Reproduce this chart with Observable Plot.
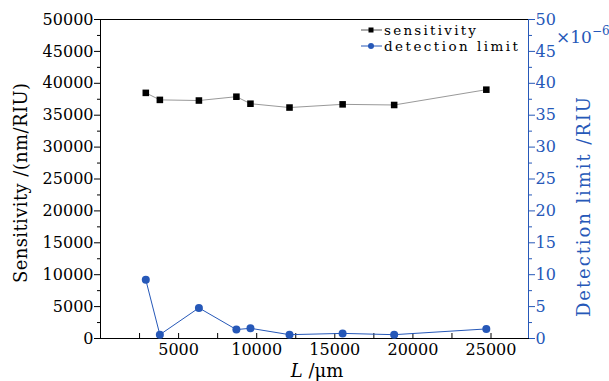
<!DOCTYPE html>
<html>
<head>
<meta charset="utf-8">
<script src="https://cdn.jsdelivr.net/npm/d3@7"></script>
<script src="https://cdn.jsdelivr.net/npm/@observablehq/plot@0.6"></script>
<style>
  body { margin: 0; background: #fff; }
  #wrap { position: relative; width: 609px; height: 381px; font-family: "DejaVu Serif", serif; }
  #wrap svg.ov { position: absolute; left: 0; top: 0; pointer-events: none; }
</style>
</head>
<body>
<div id="wrap"></div>
<script>
const lengths = [2900, 3800, 6300, 8700, 9600, 12100, 15500, 18800, 24700];
const sensitivity = [38500, 37400, 37300, 37900, 36800, 36200, 36700, 36600, 39000];
const detectionLimit = [9.2, 0.6, 4.8, 1.4, 1.6, 0.6, 0.8, 0.6, 1.5]; // ×10^-6 RIU
const xTicks = [5000, 10000, 15000, 20000, 25000];
const yTicks = d3.range(0, 50001, 5000);
const rightTicks = d3.range(0, 51, 5);

const BLUE = "#2658b8";
const xMax = 27400;
const scaleFactor = 1000; // right axis 0–50 mapped to left 0–50000

const sens = lengths.map((L, i) => ({L, v: sensitivity[i]}));
const det = lengths.map((L, i) => ({L, v: detectionLimit[i] * scaleFactor}));

const plot = Plot.plot({
  width: 609,
  height: 381,
  marginLeft: 100,
  marginRight: 81,
  marginTop: 19,
  marginBottom: 43,
  style: {fontFamily: "DejaVu Serif, serif", fontSize: "16px", background: "white", color: "black"},
  x: {domain: [0, xMax]},
  y: {domain: [0, 50000]},
  marks: [
    Plot.frame({stroke: "black"}),
    Plot.ruleX([xMax], {stroke: BLUE}),
    Plot.axisY({ticks: yTicks, tickSize: 6, tickPadding: 1, tickFormat: d => String(d), label: null, fontSize: 16}),
    Plot.axisY({ticks: d3.range(2500, 50000, 5000), tickSize: 3, tickFormat: () => "", label: null}),
    Plot.axisY({anchor: "right", ticks: rightTicks.map(d => d * scaleFactor), tickSize: 6, tickPadding: 1,
      tickFormat: d => String(d / scaleFactor), label: null, stroke: BLUE, fill: BLUE, color: BLUE, fontSize: 16}),
    Plot.axisY({anchor: "right", ticks: d3.range(2500, 50000, 5000), tickSize: 3, tickFormat: () => "", label: null, stroke: BLUE}),
    Plot.axisX({ticks: xTicks, tickSize: -5, tickPadding: 10, tickFormat: d => String(d), label: null, fontSize: 16}),
    Plot.axisX({ticks: d3.range(2500, xMax, 5000), tickSize: -5, tickFormat: () => "", label: null}),
    Plot.line(sens, {x: "L", y: "v", stroke: "#999", strokeWidth: 1}),
    Plot.dot(sens, {x: "L", y: "v", symbol: "square", r: 3.7, fill: "black", stroke: "none"}),
    Plot.line(det, {x: "L", y: "v", stroke: BLUE, strokeWidth: 1}),
    Plot.dot(det, {x: "L", y: "v", symbol: "circle", r: 4, fill: BLUE, stroke: "none"})
  ]
});

const wrap = document.getElementById("wrap");
wrap.appendChild(plot);

// overlay: axis titles, legend, exponent
const ov = d3.select(wrap).append("svg").attr("class", "ov")
  .attr("width", 609).attr("height", 381)
  .style("font-family", "DejaVu Serif, serif");

ov.append("text").attr("transform", "translate(27,183) rotate(-90)")
  .attr("text-anchor", "middle").attr("font-size", 18).attr("fill", "black")
  .attr("textLength", 200).attr("lengthAdjust", "spacing")
  .text("Sensitivity /(nm/RIU)");

ov.append("text").attr("transform", "translate(590,207) rotate(-90)")
  .attr("text-anchor", "middle").attr("font-size", 18).attr("fill", BLUE)
  .attr("textLength", 220).attr("lengthAdjust", "spacing")
  .text("Detection limit /RIU");

const xl = ov.append("text").attr("x", 317).attr("y", 377).attr("text-anchor", "middle")
  .attr("font-size", 18).attr("fill", "black");
xl.append("tspan").attr("font-style", "italic").text("L");
xl.append("tspan").text(" /μm");

const ex = ov.append("text").attr("x", 556).attr("y", 43).attr("font-size", 17).attr("fill", BLUE);
ex.append("tspan").text("×10");
ex.append("tspan").attr("dy", -8).attr("font-size", 12).text("−6");

// legend
const leg = [
  {label: "sensitivity", color: "black", line: "#555", sym: "square", y: 30},
  {label: "detection limit", color: BLUE, line: BLUE, sym: "circle", y: 46}
];
for (const d of leg) {
  ov.append("line").attr("x1", 361).attr("x2", 382).attr("y1", d.y).attr("y2", d.y)
    .attr("stroke", d.line).attr("stroke-width", 1);
  if (d.sym === "square") {
    ov.append("rect").attr("x", 368.5).attr("y", d.y - 2.5).attr("width", 5).attr("height", 5).attr("fill", d.color);
  } else {
    ov.append("circle").attr("cx", 371).attr("cy", d.y).attr("r", 3).attr("fill", d.color);
  }
  ov.append("text").attr("x", 384).attr("y", d.y + 4.5).attr("font-size", 13.5).attr("fill", "black")
    .attr("textLength", d.label === "sensitivity" ? 92 : 134).attr("lengthAdjust", "spacing")
    .text(d.label);
}
</script>
</body>
</html>
